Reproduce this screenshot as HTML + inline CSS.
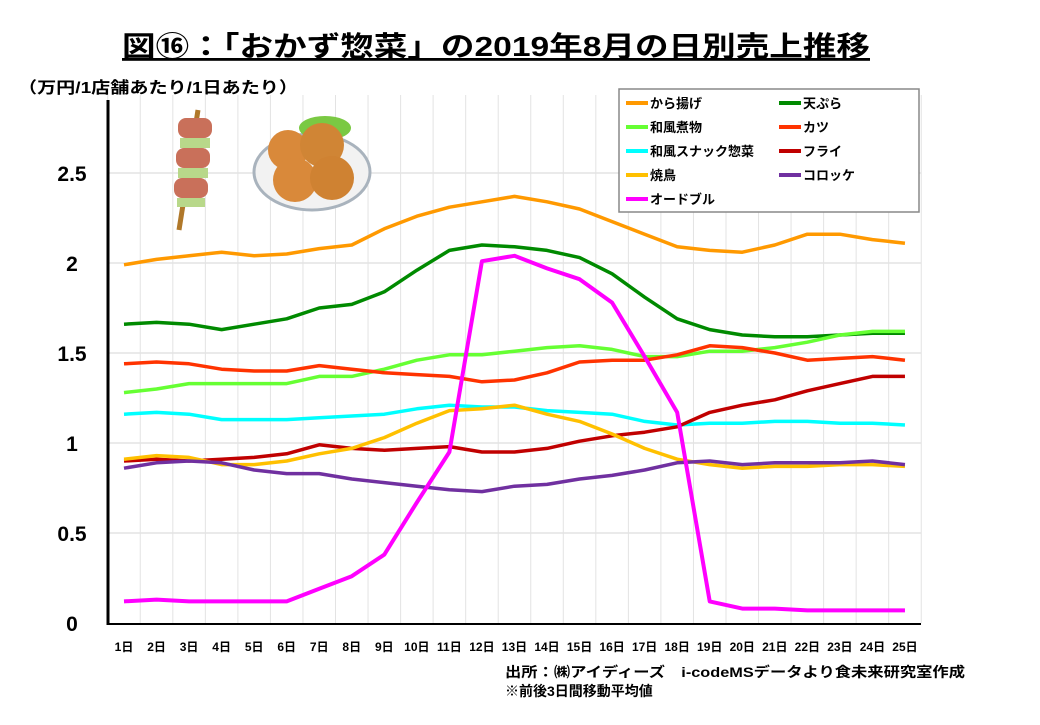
<!DOCTYPE html>
<html><head><meta charset="utf-8"><style>
body{margin:0;background:#fff;width:1040px;height:720px;overflow:hidden;font-family:"Liberation Sans","Noto Sans CJK JP",sans-serif;}
</style></head><body>
<svg id="c" width="1040" height="720" style="font-family:'Liberation Sans','Noto Sans CJK JP',sans-serif">
<text x="122" y="56" font-size="28" font-weight="bold" textLength="748" lengthAdjust="spacingAndGlyphs" text-decoration="underline">図⑯：「おかず惣菜」の2019年8月の日別売上推移</text>
<text x="18" y="93" font-size="16" font-weight="bold" textLength="280" lengthAdjust="spacingAndGlyphs">（万円/1店舗あたり/1日あたり）</text>
<g id="grid"></g>
<g id="axes"></g>
<g>
<line x1="179" y1="230" x2="198" y2="110" stroke="#b0782a" stroke-width="5"/>
<rect x="178" y="118" width="34" height="20" rx="8" fill="#c9705a"/>
<rect x="180" y="138" width="30" height="10" fill="#b8d88a"/>
<rect x="176" y="148" width="34" height="20" rx="8" fill="#c9705a"/>
<rect x="178" y="168" width="30" height="10" fill="#b8d88a"/>
<rect x="174" y="178" width="34" height="20" rx="8" fill="#c9705a"/>
<rect x="177" y="198" width="28" height="9" fill="#b8d88a"/>
</g>
<g>
<ellipse cx="312" cy="172" rx="58" ry="38" fill="#f2f2f2" stroke="#a9b3bd" stroke-width="3"/>
<ellipse cx="325" cy="128" rx="26" ry="12" fill="#7ac943"/>
<circle cx="288" cy="150" r="20" fill="#d9893a"/>
<circle cx="322" cy="145" r="22" fill="#d08535"/>
<circle cx="295" cy="180" r="22" fill="#d9893a"/>
<circle cx="332" cy="178" r="22" fill="#cf8232"/>
</g>
<g id="lines"></g>
<g>
<rect x="619" y="89" width="300" height="123" fill="#fff" stroke="#888" stroke-width="1.5"/>
<g id="leg"></g>
</g>
<text x="505" y="677" font-size="14" font-weight="bold" textLength="460" lengthAdjust="spacingAndGlyphs">出所：㈱アイディーズ　i-codeMSデータより食未来研究室作成</text>
<text x="505" y="696" font-size="14" font-weight="bold">※前後3日間移動平均値</text>
</svg>
<script>
const days=[1,2,3,4,5,6,7,8,9,10,11,12,13,14,15,16,17,18,19,20,21,22,23,24,25];
const yTicks=[0,0.5,1,1.5,2,2.5];
const yTickLabels=["0","0.5","1","1.5","2","2.5"];
const seriesNames=["から揚げ","天ぷら","和風煮物","カツ","和風スナック惣菜","フライ","焼鳥","コロッケ","オードブル"];
const seriesColors=["#ff9900","#008a00","#66ff33","#ff3300","#00ffff","#c00000","#ffc000","#7030a0","#ff00ff"];
const karaage=[1.99,2.02,2.04,2.06,2.04,2.05,2.08,2.10,2.19,2.26,2.31,2.34,2.37,2.34,2.30,2.23,2.16,2.09,2.07,2.06,2.10,2.16,2.16,2.13,2.11];
const tempura=[1.66,1.67,1.66,1.63,1.66,1.69,1.75,1.77,1.84,1.96,2.07,2.10,2.09,2.07,2.03,1.94,1.81,1.69,1.63,1.60,1.59,1.59,1.60,1.61,1.61];
const nimono=[1.28,1.30,1.33,1.33,1.33,1.33,1.37,1.37,1.41,1.46,1.49,1.49,1.51,1.53,1.54,1.52,1.48,1.48,1.51,1.51,1.53,1.56,1.60,1.62,1.62];
const katsu=[1.44,1.45,1.44,1.41,1.40,1.40,1.43,1.41,1.39,1.38,1.37,1.34,1.35,1.39,1.45,1.46,1.46,1.49,1.54,1.53,1.50,1.46,1.47,1.48,1.46];
const snack=[1.16,1.17,1.16,1.13,1.13,1.13,1.14,1.15,1.16,1.19,1.21,1.20,1.20,1.18,1.17,1.16,1.12,1.10,1.11,1.11,1.12,1.12,1.11,1.11,1.10];
const fry=[0.90,0.91,0.90,0.91,0.92,0.94,0.99,0.97,0.96,0.97,0.98,0.95,0.95,0.97,1.01,1.04,1.06,1.09,1.17,1.21,1.24,1.29,1.33,1.37,1.37];
const yakitori=[0.91,0.93,0.92,0.88,0.88,0.90,0.94,0.97,1.03,1.11,1.18,1.19,1.21,1.16,1.12,1.05,0.97,0.91,0.88,0.86,0.87,0.87,0.88,0.88,0.87];
const croquette=[0.86,0.89,0.90,0.89,0.85,0.83,0.83,0.80,0.78,0.76,0.74,0.73,0.76,0.77,0.80,0.82,0.85,0.89,0.90,0.88,0.89,0.89,0.89,0.90,0.88];
const hors=[0.12,0.13,0.12,0.12,0.12,0.12,0.19,0.26,0.38,0.67,0.95,2.01,2.04,1.97,1.91,1.78,1.48,1.17,0.12,0.08,0.08,0.07,0.07,0.07,0.07];
const seriesData=[karaage,tempura,nimono,katsu,snack,fry,yakitori,croquette,hors];
const ns="http://www.w3.org/2000/svg";
const X=d=>124+(d-1)*32.54;
const Y=v=>623-v*180;
function mk(t,a,p){const e=document.createElementNS(ns,t);for(const k in a)e.setAttribute(k,a[k]);p.appendChild(e);return e;}
const grid=document.getElementById('grid'),axes=document.getElementById('axes'),lines=document.getElementById('lines'),leg=document.getElementById('leg');
for(let i=0;i<=days.length;i++){const x=X(days[0])-16.27+i*32.54;
const g=mk('line',{x1:x,y1:95,x2:x,y2:623,stroke:'#e3e3e3','stroke-width':1},grid);

}
yTicks.forEach((v,i)=>{if(v>0){const g=mk('line',{x1:108,y1:Y(v),x2:921,y2:Y(v),stroke:'#e3e3e3','stroke-width':1.5},grid);

}
const t=mk('text',{x:72,y:Y(v)+8,'text-anchor':'middle','font-size':21,'font-weight':'bold'},axes);t.textContent=yTickLabels[i];

});
const ya=mk('line',{x1:108,y1:100,x2:108,y2:625,stroke:'#000','stroke-width':3},axes);


const xa=mk('line',{x1:107,y1:624,x2:921,y2:624,stroke:'#000','stroke-width':2},axes);


days.forEach(d=>{const t=mk('text',{x:X(d),y:651,'text-anchor':'middle','font-size':12,'font-weight':'bold'},axes);t.textContent=d+'日';

});
seriesData.forEach((s,i)=>{const p=mk('polyline',{points:s.map((v,j)=>X(days[j])+','+Y(v)).join(' '),fill:'none',stroke:seriesColors[i],'stroke-width':i==8?4:3.5,'stroke-linejoin':'round'},lines);

});
const legOrder=[0,1,2,3,4,5,6,7,8];
legOrder.forEach((si,k)=>{const col=k%2,row=Math.floor(k/2);const x=626+col*153,y=103+row*24;
const g=mk('g',{},leg);


mk('line',{x1:x,y1:y,x2:x+22,y2:y,stroke:seriesColors[si],'stroke-width':4},g);
const t=mk('text',{x:x+24,y:y+5,'font-size':13,'font-weight':'bold'},g);t.textContent=seriesNames[si];});
</script>
</body></html>
